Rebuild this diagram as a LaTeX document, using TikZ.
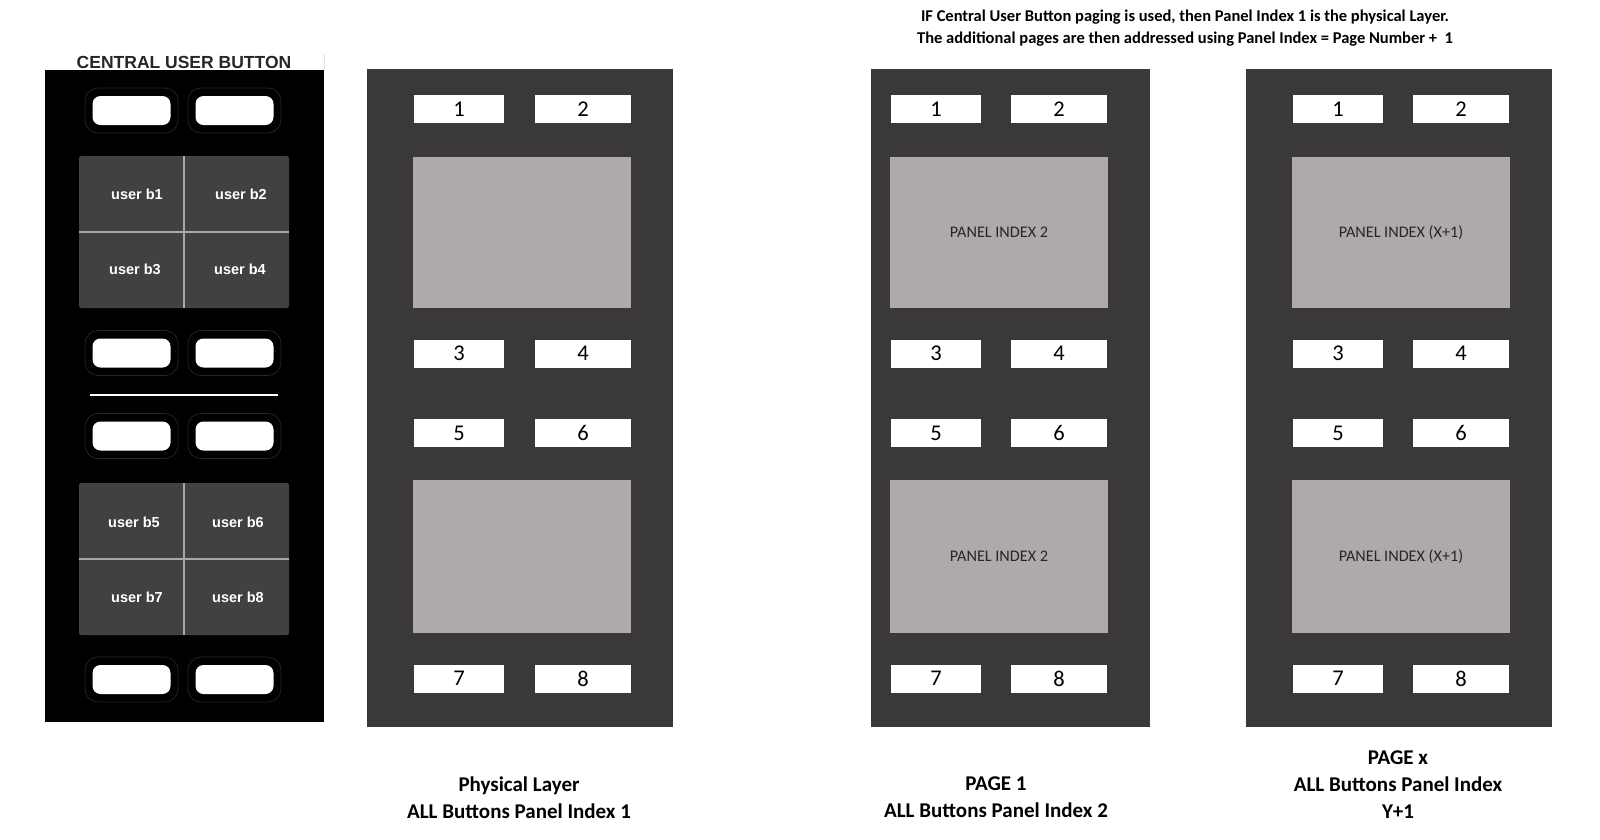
\documentclass[tikz,border=0pt]{standalone}
\usepackage{fontspec}
\setmainfont{Carlito}
\newfontfamily\ubfont{Liberation Sans}
\definecolor{panelgrey}{HTML}{3A3839}
\definecolor{screengrey}{HTML}{AEAAA9}
\definecolor{blockgrey}{HTML}{414141}
\definecolor{divgrey}{HTML}{A8A8A8}

\begin{document}
\begin{tikzpicture}[x=1pt, y=-1pt, every node/.style={inner sep=0pt},
	frame/.style={fill=panelgrey, minimum height=658pt},
	key/.style={fill=white, minimum height=28pt, font=\fontsize{22.5}{26}\selectfont},
	lkey/.style={key, minimum width=90pt},
	rkey/.style={key, minimum width=96pt},
	screen/.style={fill=screengrey, minimum width=218pt, text=black!85, font=\fontsize{16.2}{19}\selectfont},
	ubtn/.style={draw=gray!30!black, line width=0.7pt, fill=black, rounded corners=13pt, minimum width=93pt, minimum height=45pt,
		label={[fill=white, rounded corners=8pt, minimum width=78pt, minimum height=29pt]center:}},
	ublock/.style={fill=blockgrey, rounded corners=2pt, minimum width=210pt, minimum height=152pt},
	ulabel/.style={text=white, font=\ubfont\bfseries\fontsize{14.5}{16}\selectfont},
	caption/.style={align=center, font=\bfseries\fontsize{21}{27}\selectfont}]
	\useasboundingbox (0,0) rectangle (1600,839);
	% central user button strip
	\node[fill=black, minimum width=279pt, minimum height=652pt] (cub) at (184.5,396) {};
	\node[font=\ubfont\bfseries\fontsize{17.5}{20}\selectfont, text=black!85] (cubtitle) at (184,62) {CENTRAL USER BUTTON};
	\draw[gray!25, line width=1pt] (cub.north east) -- ++(0,-16);
	\node[ubtn] (u1) at (131.5,110.5) {};
	\node[ubtn] (u2) at (234.5,110.5) {};
	\node[ublock] (blockA) at (184,232) {};
	\draw[divgrey, line width=1.5pt] (blockA.north) -- (blockA.south);
	\draw[divgrey, line width=1.5pt] (blockA.west) -- (blockA.east);
	\node[ulabel] (ub1) at (137,194) {user b1};
	\node[ulabel] (ub2) at (241,194) {user b2};
	\node[ulabel] (ub3) at (135,269) {user b3};
	\node[ulabel] (ub4) at (240,269) {user b4};
	\node[ubtn] (u3) at (131.5,353) {};
	\node[ubtn] (u4) at (234.5,353) {};
	\draw[white, line width=1.8pt] (90,395) -- (278,395);
	\node[ubtn] (u5) at (131.5,436) {};
	\node[ubtn] (u6) at (234.5,436) {};
	\node[ublock] (blockB) at (184,559) {};
	\draw[divgrey, line width=1.5pt] (blockB.north) -- (blockB.south);
	\draw[divgrey, line width=1.5pt] (blockB.west) -- (blockB.east);
	\node[ulabel] (ub5) at (134,522) {user b5};
	\node[ulabel] (ub6) at (238,522) {user b6};
	\node[ulabel] (ub7) at (137,597) {user b7};
	\node[ulabel] (ub8) at (238,597) {user b8};
	\node[ubtn] (u7) at (131.5,679.5) {};
	\node[ubtn] (u8) at (234.5,679.5) {};
	% panel layouts
	\foreach \p/\xf/\wf/\xl/\xr/\xs/\t in {phy/520/306/459/583/522/{}, pone/1010.5/279/936/1059/999/{PANEL INDEX 2}, px/1399/306/1338/1461/1401/{PANEL INDEX (X+1)}}{
		\node[frame, minimum width=\wf pt] (\p) at (\xf,398) {};
		\node[lkey] (\p-1) at (\xl,109) {1};
		\node[rkey] (\p-2) at (\xr,109) {2};
		\node[screen, minimum height=151pt] (\p-s1) at (\xs,232.5) {\t};
		\node[lkey] (\p-3) at (\xl,353.5) {3};
		\node[rkey] (\p-4) at (\xr,353.5) {4};
		\node[lkey] (\p-5) at (\xl,433) {5};
		\node[rkey] (\p-6) at (\xr,433) {6};
		\node[screen, minimum height=153pt] (\p-s2) at (\xs,556.5) {\t};
		\node[lkey] (\p-7) at (\xl,678.5) {7};
		\node[rkey] (\p-8) at (\xr,678.5) {8};
	}
	\node[align=center, font=\bfseries\fontsize{16.5}{21.5}\selectfont] (note) at (1185,28) {IF Central User Button paging is used, then Panel Index 1 is the physical Layer.\\The additional pages are then addressed using Panel Index = Page Number +\ \ 1};
	\node[caption] (capphy) at (519,797.5) {Physical Layer\\ALL Buttons Panel Index 1};
	\node[caption] (cappone) at (996,797.5) {PAGE 1\\ALL Buttons Panel Index 2};
	\node[caption] (cappx) at (1398,784.5) {PAGE x\\ALL Buttons Panel Index\\Y+1};
\end{tikzpicture}
\end{document}
